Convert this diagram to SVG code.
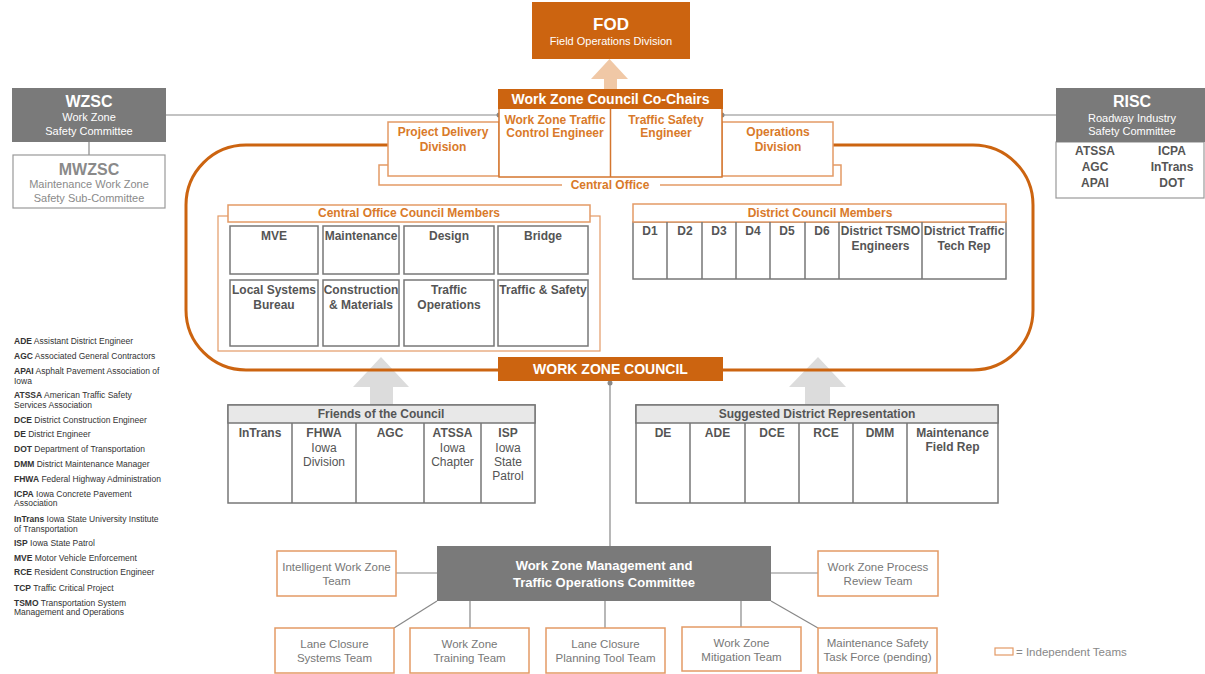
<svg xmlns="http://www.w3.org/2000/svg" width="1205" height="674" viewBox="0 0 1205 674">
<style>
text{font-family:"Liberation Sans",Arial,sans-serif;}
.bo{fill:#CC6410;}
.wt{fill:#fff;text-anchor:middle;}
.ot{fill:#D97A2A;font-weight:bold;text-anchor:middle;font-size:12px;}
.ob{fill:#fff;stroke:#E39A66;stroke-width:1.5;}
.obd{fill:#fff;stroke:#D4762E;stroke-width:1.5;}
.gc{fill:#fff;stroke:#777;stroke-width:1.5;}
.gt{fill:#555;font-weight:bold;text-anchor:middle;font-size:12px;}
.gr{fill:#555;text-anchor:middle;font-size:12px;}
.tt{fill:#777;text-anchor:middle;font-size:11.5px;}
.ln{stroke:#888;stroke-width:1.2;fill:none;}
.lg{font-size:8.5px;fill:#333;}
.lg tspan.b{font-weight:bold;}
</style>

<g id="connectors">
  <line class="ln" x1="166" y1="115" x2="499" y2="115"/>
  <line class="ln" x1="722" y1="115" x2="1056" y2="115"/>
  <line class="ln" x1="89" y1="142" x2="89" y2="155"/>
  <line class="ln" x1="610" y1="382" x2="610" y2="546"/>
  <line class="ln" x1="396" y1="573" x2="437" y2="573"/>
  <line class="ln" x1="771" y1="573" x2="818" y2="573"/>
  <line class="ln" x1="437" y1="601" x2="394" y2="628"/>
  <line class="ln" x1="470" y1="601" x2="470" y2="628"/>
  <line class="ln" x1="605" y1="601" x2="605" y2="628"/>
  <line class="ln" x1="741" y1="601" x2="741" y2="627"/>
  <line class="ln" x1="771" y1="601" x2="818" y2="628"/>
  <circle cx="499" cy="115" r="2.5" fill="#888"/>
  <circle cx="722" cy="115" r="2.5" fill="#888"/>
  <circle cx="610" cy="383" r="2.5" fill="#888"/>
  <polygon points="604,90 617,90 617,79 628,79 609.5,59 591,79 604,79" fill="#F0C8A6"/>
  <polygon points="370,405 393,405 393,387 409,387 381,357 353,387 370,387" fill="#DCDCDC"/>
  <polygon points="805,405 830,405 830,387 846,387 818,357 789,387 805,387" fill="#DCDCDC"/>
</g>

<g id="council-outline">
  <path d="M388,145 H246 A60,60 0 0 0 186,205 V310 A60,60 0 0 0 246,370 H498 M723,370 H973 A60,60 0 0 0 1033,310 V205 A60,60 0 0 0 973,145 H833" fill="none" stroke="#CC6410" stroke-width="3"/>
</g>

<g id="fod">
  <rect x="532" y="2" width="158" height="57" class="bo"/>
  <text x="611" y="30" class="wt" font-size="17" font-weight="bold">FOD</text>
  <text x="611" y="45" class="wt" font-size="11">Field Operations Division</text>
</g>

<g id="central-office-bracket">
  <path d="M388,165 H379 V185 H562 M660,185 H841 V165 H833" fill="none" stroke="#E39A66" stroke-width="1.5"/>
  <text x="610" y="189" class="ot" font-size="11">Central Office</text>
</g>

<g id="project-delivery">
  <rect x="388" y="122" width="111" height="54" class="ob"/>
  <text x="443" y="136" class="ot">Project Delivery</text>
  <text x="443" y="151" class="ot">Division</text>
</g>
<g id="operations-division">
  <rect x="722" y="122" width="111" height="54" class="ob"/>
  <text x="778" y="136" class="ot">Operations</text>
  <text x="778" y="151" class="ot">Division</text>
</g>

<g id="co-chairs">
  <rect x="499" y="108" width="223" height="69" class="obd"/>
  <line x1="610.5" y1="108" x2="610.5" y2="177" stroke="#D4762E" stroke-width="1.5"/>
  <rect x="498" y="89" width="225" height="20" class="bo"/>
  <text x="610.5" y="104" class="wt" font-size="14" font-weight="bold">Work Zone Council Co-Chairs</text>
  <text x="555" y="124" class="ot">Work Zone Traffic</text>
  <text x="555" y="137" class="ot">Control Engineer</text>
  <text x="666" y="124" class="ot">Traffic Safety</text>
  <text x="666" y="137" class="ot">Engineer</text>
</g>

<g id="wzsc">
  <rect x="12" y="88" width="154" height="54" fill="#7A7A7A"/>
  <text x="89" y="107" class="wt" font-size="16" font-weight="bold">WZSC</text>
  <text x="89" y="121" class="wt" font-size="11">Work Zone</text>
  <text x="89" y="135" class="wt" font-size="11">Safety Committee</text>
</g>
<g id="mwzsc">
  <rect x="13" y="155" width="152" height="53" fill="#fff" stroke="#999" stroke-width="1.2"/>
  <text x="89" y="175" font-size="16" font-weight="bold" fill="#8A8A8A" text-anchor="middle">MWZSC</text>
  <text x="89" y="188" font-size="11" fill="#8A8A8A" text-anchor="middle">Maintenance Work Zone</text>
  <text x="89" y="202" font-size="11" fill="#8A8A8A" text-anchor="middle">Safety Sub-Committee</text>
</g>

<g id="risc">
  <rect x="1056" y="142" width="148" height="56" fill="#fff" stroke="#999" stroke-width="1.2"/>
  <rect x="1056" y="88" width="149" height="54" fill="#7A7A7A"/>
  <text x="1132" y="107" class="wt" font-size="16" font-weight="bold">RISC</text>
  <text x="1132" y="122" class="wt" font-size="11">Roadway Industry</text>
  <text x="1132" y="135" class="wt" font-size="11">Safety Committee</text>
  <text x="1095" y="155" class="gt" font-size="11" fill="#333">ATSSA</text>
  <text x="1172" y="155" class="gt" font-size="11" fill="#333">ICPA</text>
  <text x="1095" y="171" class="gt" font-size="11" fill="#333">AGC</text>
  <text x="1172" y="171" class="gt" font-size="11" fill="#333">InTrans</text>
  <text x="1095" y="187" class="gt" font-size="11" fill="#333">APAI</text>
  <text x="1172" y="187" class="gt" font-size="11" fill="#333">DOT</text>
</g>

<g id="central-office-members">
  <rect x="218" y="216" width="382" height="135" fill="#fff" stroke="#E39A66" stroke-width="1.2"/>
  <rect x="228" y="205" width="362" height="17" class="ob"/>
  <text x="409" y="217" class="ot" font-size="11">Central Office Council Members</text>
  <rect x="230" y="226" width="88" height="48" class="gc"/>
  <rect x="323" y="226" width="76" height="48" class="gc"/>
  <rect x="404" y="226" width="90" height="48" class="gc"/>
  <rect x="498" y="226" width="90" height="48" class="gc"/>
  <rect x="230" y="280" width="88" height="66" class="gc"/>
  <rect x="323" y="280" width="76" height="66" class="gc"/>
  <rect x="404" y="280" width="90" height="66" class="gc"/>
  <rect x="498" y="280" width="90" height="66" class="gc"/>
  <text x="274" y="240" class="gt">MVE</text>
  <text x="361" y="240" class="gt">Maintenance</text>
  <text x="449" y="240" class="gt">Design</text>
  <text x="543" y="240" class="gt">Bridge</text>
  <text x="274" y="294" class="gt">Local Systems</text>
  <text x="274" y="309" class="gt">Bureau</text>
  <text x="361" y="294" class="gt">Construction</text>
  <text x="361" y="309" class="gt">&amp; Materials</text>
  <text x="449" y="294" class="gt">Traffic</text>
  <text x="449" y="309" class="gt">Operations</text>
  <text x="543" y="294" class="gt">Traffic &amp; Safety</text>
</g>

<g id="district-members">
  <rect x="633" y="222" width="373" height="57" class="gc"/>
  <rect x="633" y="204" width="373" height="18" class="ob"/>
  <text x="820" y="217" class="ot" font-size="11">District Council Members</text>
  <path d="M667,222 V279 M702,222 V279 M736,222 V279 M770,222 V279 M805,222 V279 M839,222 V279 M922,222 V279" stroke="#777" stroke-width="1.5"/>
  <text x="650" y="235" class="gt">D1</text>
  <text x="685" y="235" class="gt">D2</text>
  <text x="719" y="235" class="gt">D3</text>
  <text x="753" y="235" class="gt">D4</text>
  <text x="787" y="235" class="gt">D5</text>
  <text x="822" y="235" class="gt">D6</text>
  <text x="880.5" y="235" class="gt">District TSMO</text>
  <text x="880.5" y="250" class="gt">Engineers</text>
  <text x="964" y="235" class="gt">District Traffic</text>
  <text x="964" y="250" class="gt">Tech Rep</text>
</g>

<g id="work-zone-council">
  <rect x="498" y="357" width="225" height="24" class="bo"/>
  <text x="610.5" y="374" class="wt" font-size="14" font-weight="bold">WORK ZONE COUNCIL</text>
</g>

<g id="friends">
  <rect x="228" y="405" width="307" height="98" class="gc"/>
  <rect x="228" y="405" width="307" height="18" fill="#E8E8E8" stroke="#777" stroke-width="1.5"/>
  <text x="381" y="418" class="gt" font-size="11">Friends of the Council</text>
  <path d="M292,423 V503 M356,423 V503 M424,423 V503 M481,423 V503" stroke="#777" stroke-width="1.5"/>
  <text x="260" y="437" class="gt" font-size="11.5">InTrans</text>
  <text x="324" y="437" class="gt" font-size="11.5">FHWA</text>
  <text x="324" y="452" class="gr" font-size="11.5">Iowa</text>
  <text x="324" y="466" class="gr" font-size="11.5">Division</text>
  <text x="390" y="437" class="gt" font-size="11.5">AGC</text>
  <text x="452.5" y="437" class="gt" font-size="11.5">ATSSA</text>
  <text x="452.5" y="452" class="gr" font-size="11.5">Iowa</text>
  <text x="452.5" y="466" class="gr" font-size="11.5">Chapter</text>
  <text x="508" y="437" class="gt" font-size="11.5">ISP</text>
  <text x="508" y="452" class="gr" font-size="11.5">Iowa</text>
  <text x="508" y="466" class="gr" font-size="11.5">State</text>
  <text x="508" y="480" class="gr" font-size="11.5">Patrol</text>
</g>

<g id="suggested-district">
  <rect x="636" y="405" width="362" height="98" class="gc"/>
  <rect x="636" y="405" width="362" height="18" fill="#E8E8E8" stroke="#777" stroke-width="1.5"/>
  <text x="817" y="418" class="gt" font-size="11">Suggested District Representation</text>
  <path d="M690,423 V503 M745,423 V503 M799,423 V503 M853,423 V503 M907,423 V503" stroke="#777" stroke-width="1.5"/>
  <text x="663" y="437" class="gt" font-size="11.5">DE</text>
  <text x="717.5" y="437" class="gt" font-size="11.5">ADE</text>
  <text x="772" y="437" class="gt" font-size="11.5">DCE</text>
  <text x="826" y="437" class="gt" font-size="11.5">RCE</text>
  <text x="880" y="437" class="gt" font-size="11.5">DMM</text>
  <text x="952.5" y="437" class="gt" font-size="11.5">Maintenance</text>
  <text x="952.5" y="451" class="gt" font-size="11.5">Field Rep</text>
</g>

<g id="wzmtoc">
  <rect x="437" y="546" width="334" height="55" fill="#7A7A7A"/>
  <text x="604" y="570" class="wt" font-size="13" font-weight="bold">Work Zone Management and</text>
  <text x="604" y="587" class="wt" font-size="13" font-weight="bold">Traffic Operations Committee</text>
</g>

<g id="intelligent-wz-team">
  <rect x="277" y="551" width="119" height="45" class="ob"/>
  <text x="336.5" y="571" class="tt">Intelligent Work Zone</text>
  <text x="336.5" y="585" class="tt">Team</text>
</g>
<g id="wz-process-review">
  <rect x="818" y="551" width="120" height="45" class="ob"/>
  <text x="878" y="571" class="tt">Work Zone Process</text>
  <text x="878" y="585" class="tt">Review Team</text>
</g>
<g id="lane-closure-systems">
  <rect x="275" y="628" width="119" height="45" class="ob"/>
  <text x="334.5" y="648" class="tt">Lane Closure</text>
  <text x="334.5" y="662" class="tt">Systems Team</text>
</g>
<g id="wz-training">
  <rect x="410" y="628" width="119" height="45" class="ob"/>
  <text x="469.5" y="648" class="tt">Work Zone</text>
  <text x="469.5" y="662" class="tt">Training Team</text>
</g>
<g id="lane-closure-planning">
  <rect x="546" y="628" width="119" height="45" class="ob"/>
  <text x="605.5" y="648" class="tt">Lane Closure</text>
  <text x="605.5" y="662" class="tt">Planning Tool Team</text>
</g>
<g id="wz-mitigation">
  <rect x="682" y="627" width="119" height="44" class="ob"/>
  <text x="741.5" y="647" class="tt">Work Zone</text>
  <text x="741.5" y="661" class="tt">Mitigation Team</text>
</g>
<g id="maintenance-safety">
  <rect x="818" y="628" width="119" height="45" class="ob"/>
  <text x="877.5" y="647" class="tt">Maintenance Safety</text>
  <text x="877.5" y="661" class="tt">Task Force (pending)</text>
</g>

<g id="legend-teams">
  <rect x="995" y="648" width="18" height="7" fill="#fff" stroke="#E39A66" stroke-width="1.2"/>
  <text x="1016" y="656" font-size="11.5" fill="#888">= Independent Teams</text>
</g>

<g id="abbreviations">
  <text x="14" y="344" class="lg"><tspan class="b">ADE</tspan> Assistant District Engineer</text>
  <text x="14" y="359" class="lg"><tspan class="b">AGC</tspan> Associated General Contractors</text>
  <text x="14" y="374" class="lg"><tspan class="b">APAI</tspan> Asphalt Pavement Association of</text>
  <text x="14" y="384" class="lg">Iowa</text>
  <text x="14" y="398" class="lg"><tspan class="b">ATSSA</tspan> American Traffic Safety</text>
  <text x="14" y="408" class="lg">Services Association</text>
  <text x="14" y="423" class="lg"><tspan class="b">DCE</tspan> District Construction Engineer</text>
  <text x="14" y="437" class="lg"><tspan class="b">DE</tspan> District Engineer</text>
  <text x="14" y="452" class="lg"><tspan class="b">DOT</tspan> Department of Transportation</text>
  <text x="14" y="467" class="lg"><tspan class="b">DMM</tspan> District Maintenance Manager</text>
  <text x="14" y="482" class="lg"><tspan class="b">FHWA</tspan> Federal Highway Administration</text>
  <text x="14" y="497" class="lg"><tspan class="b">ICPA</tspan> Iowa Concrete Pavement</text>
  <text x="14" y="506" class="lg">Association</text>
  <text x="14" y="522" class="lg"><tspan class="b">InTrans</tspan> Iowa State University Institute</text>
  <text x="14" y="532" class="lg">of Transportation</text>
  <text x="14" y="546" class="lg"><tspan class="b">ISP</tspan> Iowa State Patrol</text>
  <text x="14" y="561" class="lg"><tspan class="b">MVE</tspan> Motor Vehicle Enforcement</text>
  <text x="14" y="575" class="lg"><tspan class="b">RCE</tspan> Resident Construction Engineer</text>
  <text x="14" y="591" class="lg"><tspan class="b">TCP</tspan> Traffic Critical Project</text>
  <text x="14" y="606" class="lg"><tspan class="b">TSMO</tspan> Transportation System</text>
  <text x="14" y="615" class="lg">Management and Operations</text>
</g>
</svg>
